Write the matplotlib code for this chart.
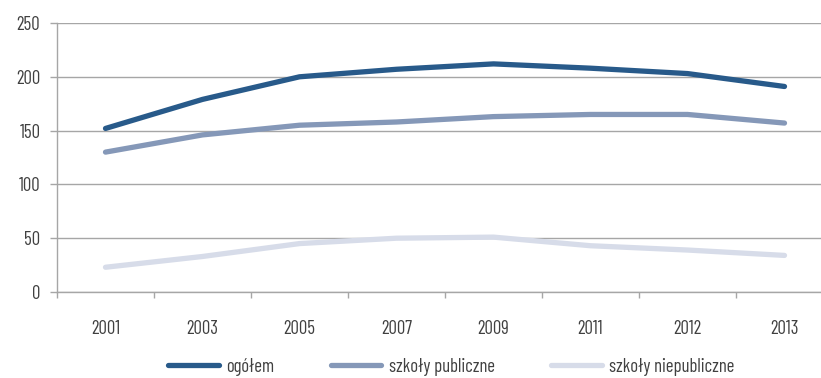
import matplotlib
matplotlib.use("Agg")
import matplotlib.pyplot as plt
import numpy as np

years = ["2001", "2003", "2005", "2007", "2009", "2011", "2012", "2013"]
ogolem = [152, 179, 200, 207, 212, 208, 203, 191]
publiczne = [130, 146, 155, 158, 163, 165, 165, 157]
niepubliczne = [23, 33, 45, 50, 51, 43, 39, 34]

plt.rcParams["font.family"] = ["Barlow Condensed", "DejaVu Sans"]

fig = plt.figure(figsize=(8.21, 3.78), dpi=100)
# axes runs a bit past the right edge, like in the source
ax = fig.add_axes([57 / 821, 1 - 292 / 378, 776 / 821, 269 / 378])

x = np.arange(len(years))
ax.plot(x, ogolem, color="#285a8a", lw=3.8, solid_capstyle="round", label="ogółem")
ax.plot(x, publiczne, color="#8598b8", lw=3.8, solid_capstyle="round", label="szkoły publiczne")
ax.plot(x, niepubliczne, color="#d7dce9", lw=3.8, solid_capstyle="round", label="szkoły niepubliczne")

ax.set_xlim(-0.5, len(years) - 0.5)
ax.set_ylim(0, 250)
ax.set_yticks(range(0, 251, 50))
ax.yaxis.grid(True, color="#a6a6a6", lw=1)
ax.set_axisbelow(True)

ax.set_xticks(np.arange(-0.5, len(years), 1))
ax.set_xticklabels([])
ax.set_xticks(x, minor=True)
ax.set_xticklabels(years, minor=True)
ax.tick_params(axis="x", which="major", length=4, color="#a6a6a6", width=1)
ax.tick_params(axis="x", which="minor", length=0, pad=20, labelsize=13.5, labelcolor="#404040")
ax.tick_params(axis="y", length=5, color="#a6a6a6", width=1, labelsize=13.5, labelcolor="#404040", pad=7)

for s in ["top", "right"]:
    ax.spines[s].set_visible(False)
for s in ["left", "bottom"]:
    ax.spines[s].set_color("#a6a6a6")
    ax.spines[s].set_linewidth(1)

leg = fig.legend(loc="center left", bbox_to_anchor=(168 / 821, 1 - 367 / 378), ncol=3, frameon=False,
                 fontsize=13.5, handlelength=2.7, columnspacing=3.0, handletextpad=0.4, borderpad=0,
                 borderaxespad=0)
for t in leg.get_texts():
    t.set_color("#404040")

fig.savefig("out.png", dpi=100)
